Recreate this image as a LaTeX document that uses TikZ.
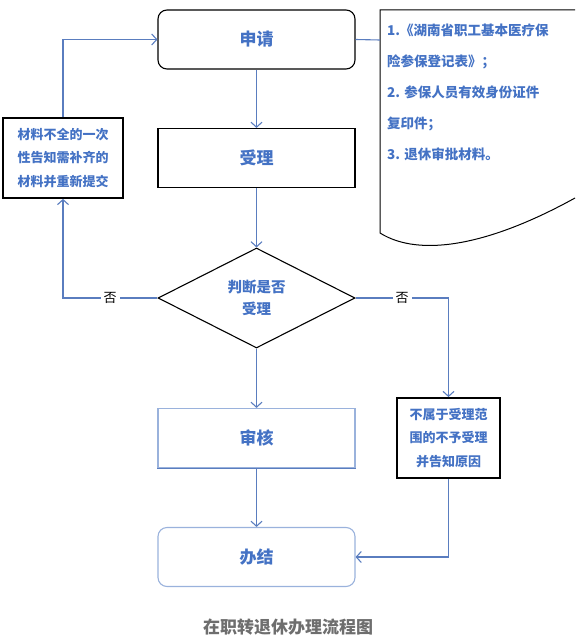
\documentclass[tikz,border=0pt]{standalone}
\usepackage{fontspec}
\setmainfont{Noto Sans CJK SC}
\usetikzlibrary{arrows.meta,positioning,shapes.geometric}
\definecolor{flowline}{HTML}{5A7DBF}
\definecolor{flowtext}{HTML}{4472C4}
\definecolor{softedge}{HTML}{9AB2DC}
\definecolor{captiongray}{HTML}{6E6E6E}

\begin{document}
\begin{tikzpicture}[x=1pt, y=-1pt,
    box/.style={draw, line width=1.1pt, minimum width=197pt, minimum height=59pt, inner sep=0pt, text=flowtext, font=\fontsize{17}{17}\selectfont\bfseries},
    softbox/.style={box, draw=softedge},
    note/.style={draw, line width=1.8pt, inner sep=0pt, align=center, text=flowtext, font=\fontsize{13}{23.5}\selectfont\bfseries},
    link/.style={flowline, line width=1.1pt},
    flow/.style={link, -{Straight Barb[length=5pt, width=11pt]}},
    nolabel/.style={fill=white, text=black, inner sep=3pt, font=\fontsize{13}{13}\selectfont}]
  \useasboundingbox (0,0) rectangle (575,644);

  % main column
  \node[box, rounded corners=9pt] (apply) at (256.5,39.5) {申请};
  \node[box] (accept) at (256.5,158) {受理};
  \node[draw, line width=1.1pt, diamond, aspect=2, minimum width=197pt, minimum height=100pt, inner sep=0pt,
        align=center, text=flowtext, font=\fontsize{14.5}{22}\selectfont\bfseries] (judge) at (256.5,298) {判断是否\\受理};
  \node[softbox] (review) at (256.5,438) {审核};
  \draw[flowline, line width=1.1pt] (review.south west) -- (review.south east);
  \node[softbox, rounded corners=9pt] (finish) at (256.5,557) {办结};

  % side boxes
  \node[note, minimum width=120pt, minimum height=80pt] (fixbox) at (63,158) {材料不全的一次\\性告知需补齐的\\材料并重新提交};
  \node[note, minimum width=103pt, minimum height=80pt] (refuse) at (448.5,438) {不属于受理范\\围的不予受理\\并告知原因};

  % document list
  \draw[line width=1pt] (575,10) -- (380,10) -- (380,233) .. controls (420,258) and (490,245) .. (575,198);
  \coordinate (docedge) at (380,40);
  \node[anchor=north west, inner sep=0pt, align=left, text=flowtext, font=\fontsize{13.5}{31}\selectfont\bfseries] (materials) at (387,24)
    {1.《湖南省职工基本医疗保\\险参保登记表》；\\2. 参保人员有效身份证件\\复印件；\\3. 退休审批材料。};

  \node[text=captiongray, font=\fontsize{17}{17}\selectfont\bfseries] (caption) at (288,627) {在职转退休办理流程图};

  \draw[link] (apply.east) -- (docedge);
  \draw[flow] (apply) -- (accept);
  \draw[flow] (accept) -- (judge);
  \draw[flow] (judge) -- (review);
  \draw[flow] (review) -- (finish);
  \draw[flow] (judge.west) -- node[nolabel] {否} (judge.west -| fixbox) -- (fixbox.south);
  \draw[flow] (fixbox.north) |- (apply.west);
  \draw[flow] (judge.east) -- node[nolabel] {否} (judge.east -| refuse) -- (refuse.north);
  \draw[flow] (refuse.south) |- (finish.east);
\end{tikzpicture}
\end{document}
